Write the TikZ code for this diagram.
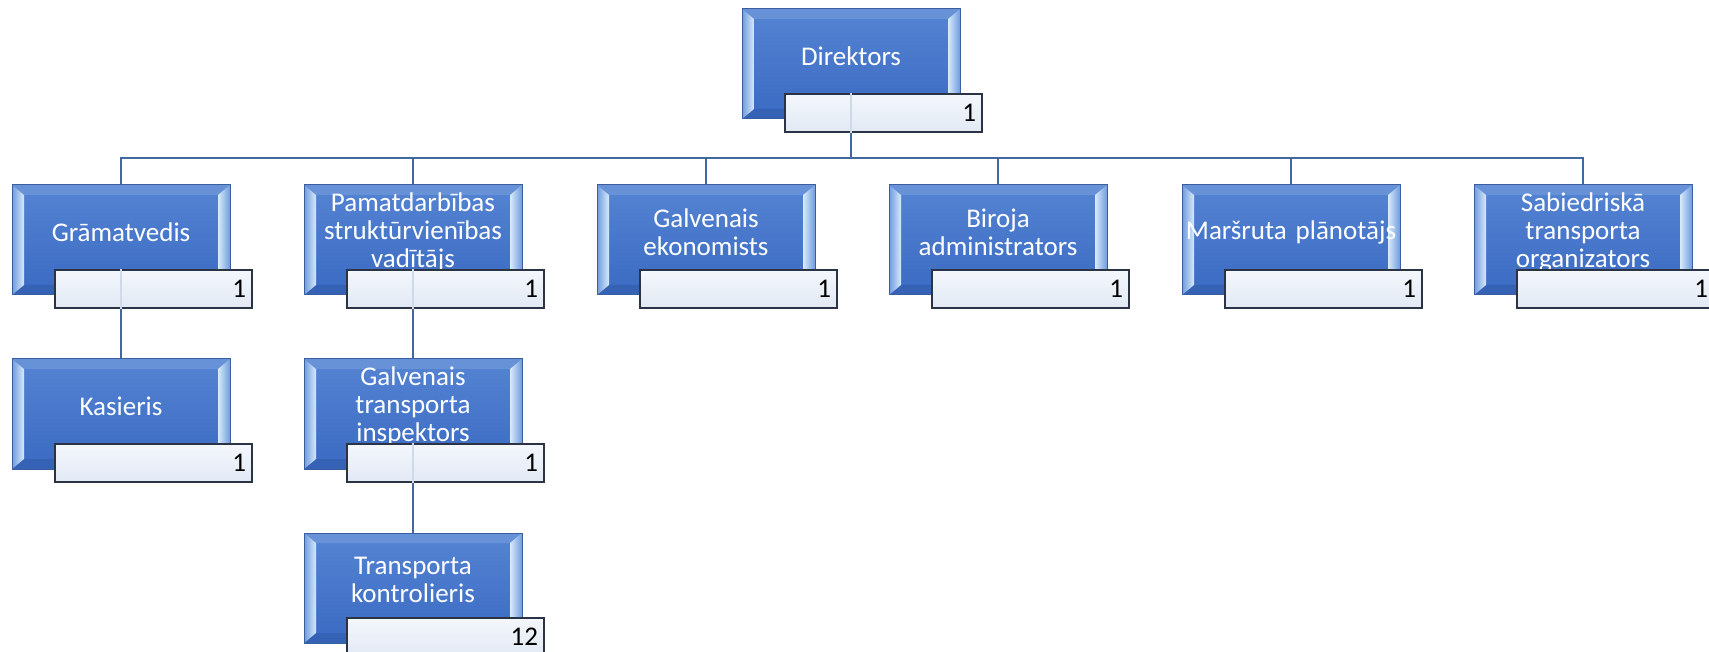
\documentclass[tikz,border=0pt]{standalone}
\usepackage{fontspec}
\setmainfont{Carlito}
\usetikzlibrary{calc,backgrounds}
\definecolor{facetop}{HTML}{5584D3}
\definecolor{facebot}{HTML}{3A6AC2}
\definecolor{bevtop}{HTML}{6792D8}
\definecolor{bevbot}{HTML}{3562B4}
\definecolor{bevout}{HTML}{6F9BDD}
\definecolor{bevin}{HTML}{D8EAFB}
\definecolor{boxline}{HTML}{3A5E9E}
\definecolor{conncol}{HTML}{41689F}
\definecolor{numtop}{HTML}{F4F7FC}
\definecolor{numbot}{HTML}{E2E9F4}
\definecolor{numline}{HTML}{2B3445}
\tikzset{
  mainbox/.style={draw=boxline, line width=1pt, minimum width=218pt, minimum height=110pt, inner sep=0pt},
  boxtext/.style={text=white, align=center, text width=230pt, inner sep=0pt,
    font=\fontsize{27}{28}\selectfont},
  numbox/.style={draw=numline, line width=1.6pt, top color=numtop, bottom color=numbot,
    minimum width=197pt, minimum height=38pt, text width=185pt, align=right,
    inner xsep=6pt, inner ysep=0pt, font=\fontsize{27}{28}\selectfont, text=black},
  conn/.style={draw=conncol, line width=2pt},
  faintconn/.style={draw=conncol!25, line width=2pt}
}
\newcommand\orgbox[4]{%
  \begin{scope}[shift={(#2,#3)}]
    \shade[top color=facetop, bottom color=facebot] (0,0) rectangle (218,110);
    \fill[bevtop] (0,0) -- (218,0) -- (206,10) -- (12,10) -- cycle;
    \fill[bevbot] (0,110) -- (218,110) -- (206,100) -- (12,100) -- cycle;
    \shade[left color=bevout, right color=bevin] (0,0) -- (12,10) -- (12,100) -- (0,110) -- cycle;
    \shade[left color=bevin, right color=bevout] (218,0) -- (206,10) -- (206,100) -- (218,110) -- cycle;
    \node[mainbox] (#1) at (109,55) {};
    \node[boxtext] (#1-t) at (109,47) {#4};
  \end{scope}}
\newcommand\orgnum[4]{%
  \begin{scope}[shift={(#2,#3)}]
    \node[numbox] (#1-n) at (141.5,104) {#4};
  \end{scope}}
\begin{document}
\begin{tikzpicture}[x=1pt,y=-1pt]
\useasboundingbox (0,0) rectangle (1709,652);
\coordinate (bus) at (0,158);
% boxes
\orgbox{d}{742}{9}{Direktors}
\orgbox{g}{12}{185}{Grāmatvedis}
\orgbox{p}{304}{185}{Pamatdarbības\\struktūrvienības\\vadītājs}
\orgbox{e}{597}{185}{Galvenais\\ekonomists}
\orgbox{b}{889}{185}{Biroja\\administrators}
\orgbox{m}{1182}{185}{Maršruta plānotājs}
\orgbox{s}{1474}{185}{Sabiedriskā\\transporta\\organizators}
\orgbox{k}{12}{359}{Kasieris}
\orgbox{i}{304}{359}{Galvenais\\transporta\\inspektors}
\orgbox{c}{304}{533}{Transporta\\kontrolieris}
% number boxes
\orgnum{d}{742}{9}{1}
\orgnum{g}{12}{185}{1}
\orgnum{p}{304}{185}{1}
\orgnum{e}{597}{185}{1}
\orgnum{b}{889}{185}{1}
\orgnum{m}{1182}{185}{1}
\orgnum{s}{1474}{185}{1}
\orgnum{k}{12}{359}{1}
\orgnum{i}{304}{359}{1}
\orgnum{c}{304}{533}{12}
% faint connector traces seen through the number boxes
\draw[faintconn] (d |- d-n.north) -- (d |- d-n.south);
\draw[faintconn] (g |- g-n.north) -- (g |- g-n.south);
\draw[faintconn] (p |- p-n.north) -- (p |- p-n.south);
\draw[faintconn] (i |- i-n.north) -- (i |- i-n.south);
% connectors
\begin{pgfonlayer}{background}
\draw[conn] (d.center) -- (d |- bus);
\draw[conn] (g.north) -- (g |- bus) -- (s |- bus) -- (s.north);
\draw[conn] (p.north) -- (p |- bus);
\draw[conn] (e.north) -- (e |- bus);
\draw[conn] (b.north) -- (b |- bus);
\draw[conn] (m.north) -- (m |- bus);
\draw[conn] (g.center) -- (k.north);
\draw[conn] (p.center) -- (i.north);
\draw[conn] (i.center) -- (c.north);
\end{pgfonlayer}
\end{tikzpicture}
\end{document}
